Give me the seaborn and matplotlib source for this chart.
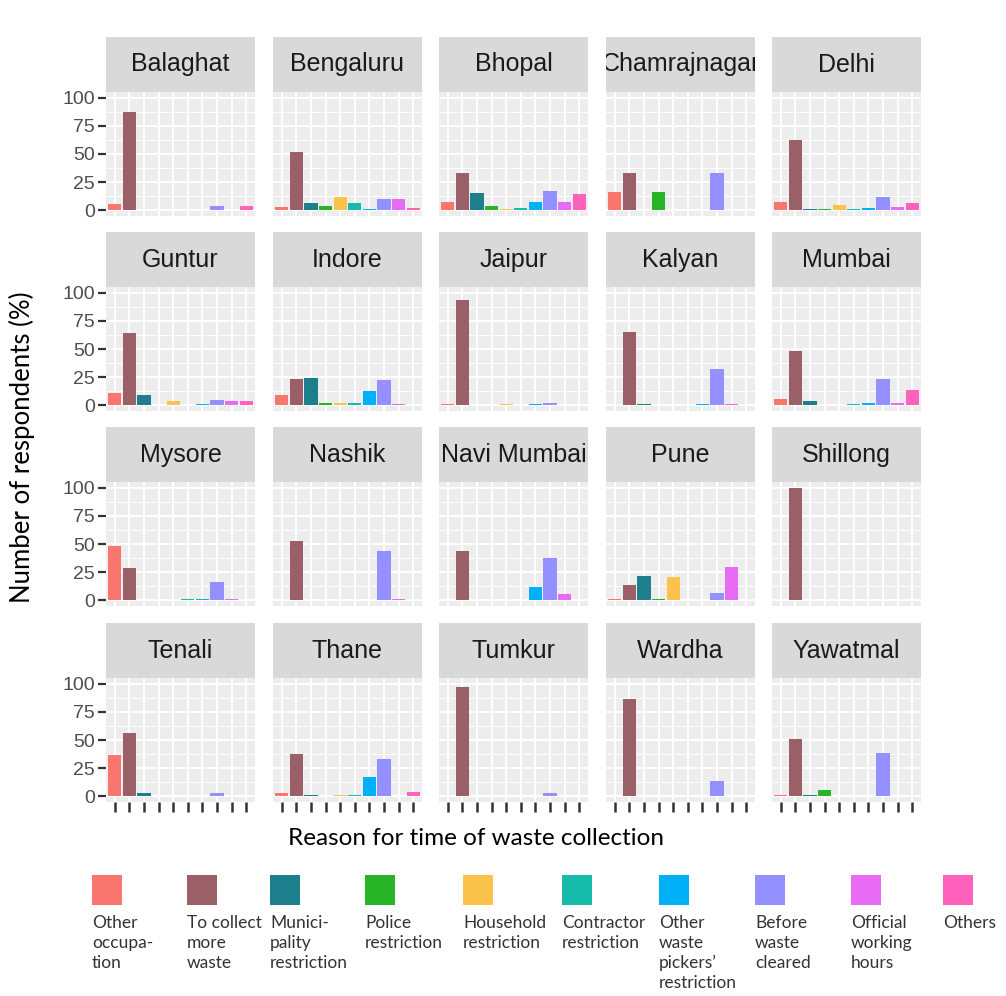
import numpy as np
import pandas as pd
import matplotlib
matplotlib.use("Agg")
import matplotlib.pyplot as plt
from matplotlib.patches import Rectangle
import seaborn as sns

# Reasons given for the time of waste collection (x categories / fill)
reasons = [
    "Other occupation", "To collect more waste", "Municipality restriction",
    "Police restriction", "Household restriction", "Contractor restriction",
    "Other waste pickers' restriction", "Before waste cleared",
    "Official working hours", "Others",
]
legend_labels = [
    "Other\noccupa-\ntion", "To collect\nmore\nwaste", "Munici-\npality\nrestriction",
    "Police\nrestriction", "Household\nrestriction", "Contractor\nrestriction",
    "Other\nwaste\npickers\u2019\nrestriction", "Before\nwaste\ncleared",
    "Official\nworking\nhours", "Others",
]
colors = [
    "#F8766D", "#9B5F68", "#1E7F8C", "#27B427", "#FBC34B",
    "#16BBAA", "#00B0F6", "#9590FF", "#E76BF3", "#FF62BC",
]

cities = [
    "Balaghat", "Bengaluru", "Bhopal", "Chamrajnagar", "Delhi",
    "Guntur", "Indore", "Jaipur", "Kalyan", "Mumbai",
    "Mysore", "Nashik", "Navi Mumbai", "Pune", "Shillong",
    "Tenali", "Thane", "Tumkur", "Wardha", "Yawatmal",
]

# Share of respondents (%) per reason, in the order of `reasons`
balaghat     = [6.0, 87.0, 0, 0, 0, 0, 0, 4.0, 0, 4.0]
bengaluru    = [3.0, 52.0, 6.5, 4.0, 12.0, 6.5, 1.0, 10.0, 10.0, 2.0]
bhopal       = [7.0, 33.0, 15.0, 4.0, 1.0, 2.5, 7.0, 17.0, 7.0, 14.5]
chamrajnagar = [16.7, 33.3, 0, 16.7, 0, 0, 0, 33.3, 0, 0]
delhi        = [7.0, 62.0, 1.0, 1.5, 5.0, 1.5, 2.5, 12.0, 3.0, 6.5]
guntur       = [11.0, 64.0, 9.5, 0, 4.0, 0.5, 1.0, 4.5, 4.0, 4.0]
indore       = [9.5, 23.5, 24.5, 2.5, 2.5, 2.5, 12.5, 22.5, 1.0, 0]
jaipur       = [1.0, 93.5, 0, 0, 1.0, 0, 1.5, 2.5, 0, 0]
kalyan       = [0, 65.0, 1.0, 0, 0, 0, 1.5, 32.0, 1.5, 0]
mumbai       = [6.0, 48.5, 4.0, 0, 0, 1.0, 2.5, 23.0, 2.5, 13.5]
mysore       = [48.0, 29.0, 0.6, 0.6, 0.6, 1.0, 1.0, 16.5, 1.0, 0]
nashik       = [0.6, 52.5, 0.6, 0, 0, 0, 0.6, 43.5, 1.2, 0]
navi_mumbai  = [0, 44.0, 0.3, 0, 0, 0, 12.0, 38.0, 6.0, 0]
pune         = [0.8, 13.5, 21.5, 1.0, 20.5, 0.6, 0.6, 6.5, 30.0, 0]
shillong     = [0, 100.0, 0, 0, 0, 0, 0, 0, 0, 0]
tenali       = [37.0, 56.5, 3.0, 0, 0.5, 0, 0, 2.7, 0, 0]
thane        = [2.7, 38.0, 1.0, 0, 1.0, 1.0, 17.5, 33.5, 0, 4.0]
tumkur       = [0, 97.0, 0.5, 0, 0, 0, 0, 2.7, 0, 0]
wardha       = [0, 86.0, 0, 0, 0, 0.3, 0, 13.5, 0, 0]
yawatmal     = [1.0, 50.5, 1.0, 5.5, 0, 0, 0, 38.5, 0, 0]

city_values = [
    balaghat, bengaluru, bhopal, chamrajnagar, delhi,
    guntur, indore, jaipur, kalyan, mumbai,
    mysore, nashik, navi_mumbai, pune, shillong,
    tenali, thane, tumkur, wardha, yawatmal,
]

df = pd.DataFrame(
    [(c, r, v) for c, vals in zip(cities, city_values) for r, v in zip(reasons, vals)],
    columns=["city", "reason", "pct"],
)
palette = dict(zip(reasons, colors))

sns.set_theme(style="white")
plt.rcParams["font.family"] = ["Liberation Sans", "DejaVu Sans"]

W, H = 1006, 996
fig = plt.figure(figsize=(W / 100, H / 100), dpi=100)


def frac_rect(x0, top, w, h):
    return [x0 / W, 1 - (top + h) / H, w / W, h / H]


col_left = [106, 273, 439, 606, 772]
strip_top = [37, 232, 427, 623]
PW, SH, PH = 149, 55, 124

for i, city in enumerate(cities):
    r, c = divmod(i, 5)
    ax = fig.add_axes(frac_rect(col_left[c], strip_top[r] + SH, PW, PH))
    ax.set_facecolor("#EDEDED")
    sub = df[df["city"] == city]
    sns.barplot(
        data=sub, x="reason", y="pct", hue="reason", order=reasons,
        hue_order=reasons, palette=palette, width=0.9, dodge=False,
        saturation=1, legend=False, ax=ax, errorbar=None, zorder=3,
        linewidth=0, edgecolor="none",
    )
    ax.set_xlim(-0.6, 9.6)
    ax.set_ylim(-5, 105)
    ax.set_yticks([0, 25, 50, 75, 100])
    ax.set_yticks([12.5, 37.5, 62.5, 87.5], minor=True)
    ax.set_xticks(range(len(reasons)))
    ax.grid(True, which="major", color="white", linewidth=1.4, zorder=0)
    ax.grid(True, which="minor", axis="y", color="white", linewidth=0.7, zorder=0)
    ax.set_axisbelow(True)
    for s in ax.spines.values():
        s.set_visible(False)
    ax.set_xlabel("")
    ax.set_ylabel("")
    ax.set_xticklabels([])
    ax.tick_params(axis="x", which="major", length=7 if r == 3 else 0, width=1.8,
                   color="#333333", bottom=(r == 3), pad=0)
    ax.tick_params(axis="y", which="major", length=6 if c == 0 else 0, width=1.6,
                   color="#333333", left=(c == 0), labelsize=14,
                   labelcolor="#4D4D4D", pad=2)
    ax.tick_params(axis="y", which="minor", length=0)
    if c != 0:
        ax.set_yticklabels([])

    # facet strip above the panel
    sax = fig.add_axes(frac_rect(col_left[c], strip_top[r], PW, SH))
    sax.set_facecolor("#D9D9D9")
    sax.set_xticks([])
    sax.set_yticks([])
    for s in sax.spines.values():
        s.set_visible(False)
    sax.text(0.5, 0.5, city, ha="center", va="center", fontsize=18,
             color="#1A1A1A", transform=sax.transAxes, clip_on=True)

# axis titles
title_font = ["Lato", "DejaVu Sans"]
fig.text(22 / W, 1 - 447 / H, "Number of respondents (%)", rotation=90,
         ha="center", va="center", fontsize=18.5, family=title_font, color="black")
fig.text(476 / W, 1 - 838 / H, "Reason for time of waste collection",
         ha="center", va="center", fontsize=17.5, family=title_font, color="black")

# legend along the bottom
lax = fig.add_axes([0, 0, 1, 1], zorder=-1)
lax.set_xlim(0, W)
lax.set_ylim(H, 0)
lax.axis("off")
key_left = [92, 187, 270, 365, 463, 562, 659, 755, 851, 943]
for x0, col, lab in zip(key_left, colors, legend_labels):
    lax.add_patch(Rectangle((x0, 875), 30, 30, facecolor=col, edgecolor="none"))
    lax.text(x0, 915, lab, ha="left", va="top", fontsize=12.5, family=title_font,
             color="#333333", linespacing=1.3)

fig.savefig("out.png", dpi=100)
